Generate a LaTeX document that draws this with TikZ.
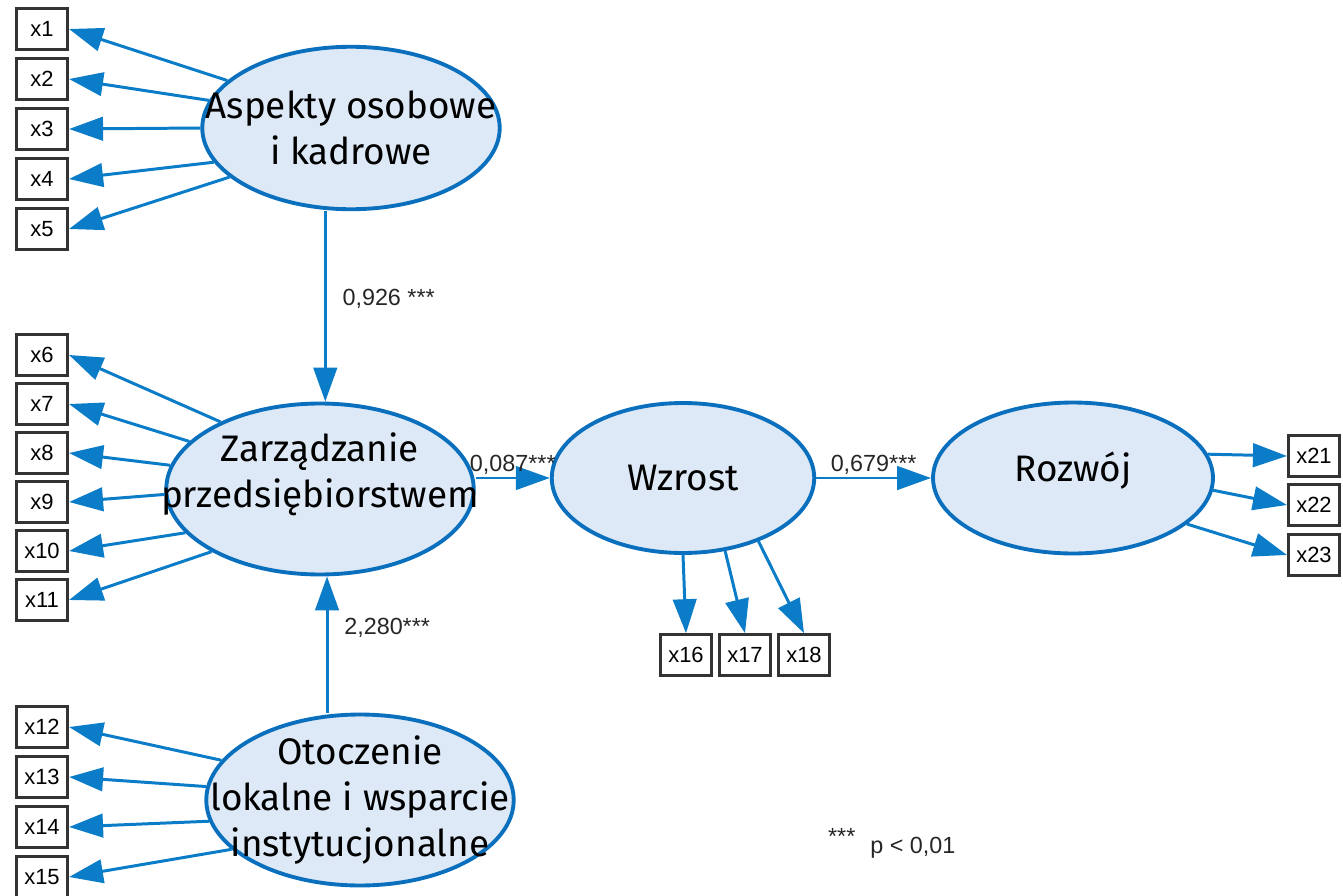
\documentclass[tikz,border=0pt]{standalone}
\usepackage{fontspec}
\setmainfont{Liberation Sans}
\newfontfamily\latentfont{Fira Sans}
\usepackage{tikz}
\usetikzlibrary{arrows.meta,shapes.geometric,positioning}
\definecolor{semblau}{HTML}{0A7CC8}
\definecolor{semrand}{HTML}{0A6FBD}
\definecolor{semfuell}{HTML}{DDE9F6}
\definecolor{kasten}{HTML}{333333}
\tikzset{
  latent/.style={ellipse, draw=semrand, line width=2.2pt, fill=semfuell, inner sep=0pt},
  obs/.style={rectangle, draw=kasten, line width=1.5pt, fill=white, minimum width=1.03cm, minimum height=0.82cm, inner sep=0pt, font=\fontsize{12.5}{14}\selectfont},
  pfeil/.style={draw=semblau, line width=1.7pt, -{Triangle[length=0.68cm,width=0.47cm]}},
  ltext/.style={font=\latentfont\fontsize{21}{26}\selectfont, align=center, inner sep=0pt},
  koeff/.style={font=\fontsize{13.3}{15}\selectfont, text=black!85, inner sep=1pt}
}

\begin{document}
\begin{tikzpicture}[x=0.02cm,y=-0.02cm]
\useasboundingbox (0,0) rectangle (1343,896);
%latente Variablen
\node[latent, minimum width=5.95cm, minimum height=3.25cm, label={[ltext]center:{Aspekty osobowe\\i kadrowe}}] (asp) at (351,128) {};
\node[latent, minimum width=6.15cm, minimum height=3.42cm, label={[ltext, yshift=0.3cm]center:{Zarządzanie\\przedsiębiorstwem}}] (zar) at (320,489) {};
\node[latent, minimum width=6.15cm, minimum height=3.42cm, label={[ltext]center:{Otoczenie\\lokalne i wsparcie\\instytucjonalne}}] (oto) at (360,800) {};
\node[latent, minimum width=5.25cm, minimum height=3.0cm, label={[ltext]center:Wzrost}] (wzr) at (683,478) {};
\node[latent, minimum width=5.6cm, minimum height=3.02cm, label={[ltext, yshift=0.15cm]center:Rozwój}] (roz) at (1073,478) {};
%Indikatoren
\foreach \i/\yy/\ang in {1/29/159, 2/79/169, 3/129/180, 4/179/194, 5/229/202}{
  \node[obs] (x\i) at (42,\yy) {x\i};
  \draw[pfeil] (asp.\ang) -- (x\i.east);
}
\foreach \i/\yy/\ang in {6/355/146, 7/404/160, 8/453/171, 9/502/182, 10/551/198, 11/600/210}{
  \node[obs] (x\i) at (42,\yy) {x\i};
  \draw[pfeil] (zar.\ang) -- (x\i.east);
}
\foreach \i/\yy/\ang in {12/727/164, 13/777/175, 14/827/188, 15/877/201}{
  \node[obs] (x\i) at (42,\yy) {x\i};
  \draw[pfeil] (oto.\ang) -- (x\i.east);
}
\foreach \i/\xx/\ang in {16/686/270, 17/745/300, 18/804/320}{
  \node[obs] (x\i) at (\xx,655) {x\i};
  \draw[pfeil] (wzr.\ang) -- (x\i.north);
}
\foreach \i/\yy/\ang in {21/456/10, 22/505/355, 23/555/338}{
  \node[obs] (x\i) at (1314,\yy) {x\i};
  \draw[pfeil] (roz.\ang) -- (x\i.west);
}
%Pfade
\draw[pfeil] ([xshift=3pt]zar.north |- asp.south) -- node[koeff, right=0.28cm, pos=0.46] {0,926 ***} ([xshift=3pt]zar.north);
\draw[pfeil] ([xshift=4pt]zar.south |- oto.north) -- node[koeff, right=0.28cm, pos=0.62] {2,280***} ([xshift=4pt]zar.south);
\draw[pfeil] (wzr.west -| zar.east) -- node[koeff, above] {0,087***} (wzr.west);
\draw[pfeil] (wzr.east) -- node[koeff, above] {0,679***} (roz.west);
%Legende
\node[koeff, anchor=west] (legende) at (826,843) {\raisebox{5pt}{***}\hspace{8.5pt}p < 0,01};
\end{tikzpicture}
\end{document}
